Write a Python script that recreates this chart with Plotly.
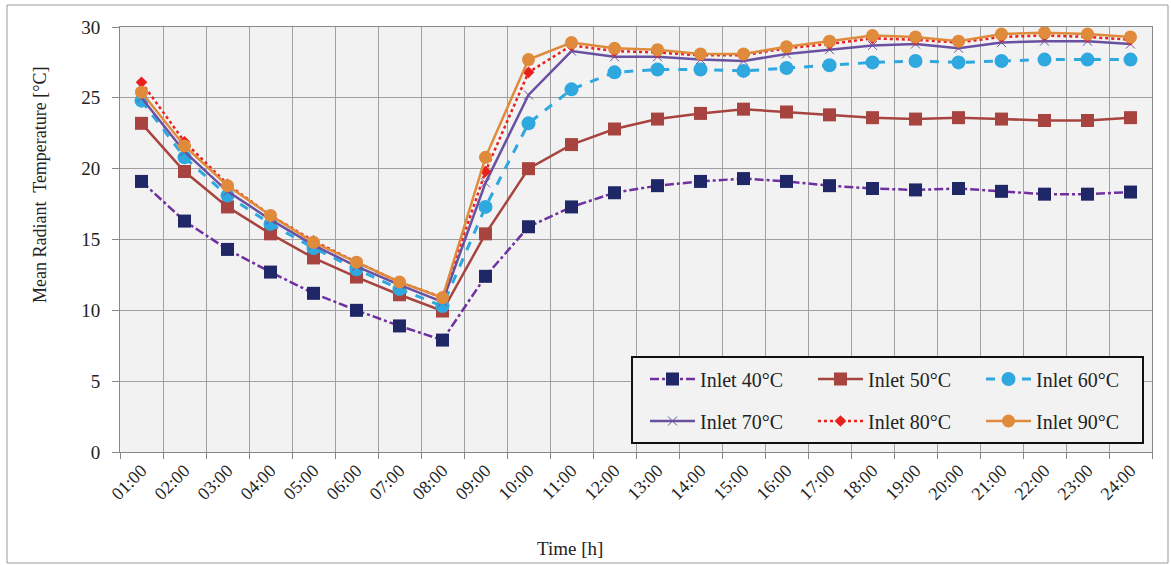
import plotly.graph_objects as go

hours = [f"{h:02d}:00" for h in range(1, 25)]

inlet_40 = [19.1, 16.3, 14.3, 12.7, 11.2, 10.0, 8.9, 7.9, 12.4, 15.9, 17.3, 18.3, 18.8, 19.1, 19.3, 19.1, 18.8, 18.6, 18.5, 18.6, 18.4, 18.2, 18.2, 18.35]
inlet_50 = [23.2, 19.8, 17.3, 15.4, 13.7, 12.35, 11.1, 9.95, 15.4, 20.0, 21.7, 22.8, 23.5, 23.9, 24.2, 24.0, 23.8, 23.6, 23.5, 23.6, 23.5, 23.4, 23.4, 23.6]
inlet_60 = [24.8, 20.8, 18.1, 16.1, 14.4, 12.9, 11.5, 10.3, 17.3, 23.2, 25.6, 26.8, 27.0, 27.0, 26.9, 27.1, 27.3, 27.5, 27.6, 27.5, 27.6, 27.7, 27.7, 27.7]
inlet_70 = [25.0, 21.2, 18.4, 16.4, 14.6, 13.1, 11.8, 10.6, 19.0, 25.2, 28.3, 27.9, 27.9, 27.7, 27.6, 28.1, 28.4, 28.7, 28.8, 28.5, 28.9, 29.0, 29.0, 28.8]
inlet_80 = [26.1, 21.9, 18.9, 16.7, 14.9, 13.4, 12.0, 10.9, 19.8, 26.8, 28.7, 28.3, 28.2, 28.0, 28.0, 28.5, 28.8, 29.2, 29.1, 28.9, 29.3, 29.4, 29.3, 29.1]
inlet_90 = [25.4, 21.6, 18.8, 16.7, 14.8, 13.4, 12.0, 10.9, 20.8, 27.7, 28.9, 28.5, 28.4, 28.1, 28.1, 28.6, 29.0, 29.4, 29.3, 29.0, 29.5, 29.6, 29.5, 29.3]

x_title = "Time [h]"
y_title = "Mean Radiant  Temperature [°C]"

series = [
    ("Inlet 40°C", inlet_40, dict(color="#7030A0", width=2.5, dash="dashdot"),
     dict(symbol="square", size=13, color="#1F2766"), "legend"),
    ("Inlet 50°C", inlet_50, dict(color="#A8443F", width=2.5, dash="solid"),
     dict(symbol="square", size=13, color="#A8443F"), "legend"),
    ("Inlet 60°C", inlet_60, dict(color="#2EA8DE", width=3, dash="dash"),
     dict(symbol="circle", size=14, color="#2EA8DE"), "legend"),
    ("Inlet 70°C", inlet_70, dict(color="#6A50A0", width=2.5, dash="solid"),
     dict(symbol="x-thin", size=9, color="#6A50A0", line=dict(color="#6A50A0", width=1)), "legend2"),
    ("Inlet 80°C", inlet_80, dict(color="#E8211F", width=2.5, dash="dot"),
     dict(symbol="diamond", size=9, color="#E8211F"), "legend2"),
    ("Inlet 90°C", inlet_90, dict(color="#E08A3C", width=2.5, dash="solid"),
     dict(symbol="circle", size=13, color="#E08A3C"), "legend2"),
]

fig = go.Figure()
for name, vals, line, marker, lg in series:
    fig.add_trace(go.Scatter(x=hours, y=vals, name=name, mode="lines+markers",
                             line=line, marker=marker, legend=lg))

serif = "Liberation Serif, Times New Roman, serif"
L, R, T, Bm = 120, 19, 27, 113
PW, PH = 1171 - L - R, 565 - T - Bm
B = T + PH


def px_x(p):
    return (p - L) / PW


def px_y(p):
    return (B - p) / PH


legend_common = dict(
    orientation="h", xanchor="left", yanchor="middle",
    bgcolor="rgba(0,0,0,0)", borderwidth=0,
    font=dict(family=serif, size=20, color="#222"),
    entrywidth=108, entrywidthmode="pixels", itemwidth=45,
    traceorder="normal",
)
fig.update_layout(
    width=1171, height=565,
    margin=dict(l=L, r=R, t=T, b=Bm),
    paper_bgcolor="white",
    plot_bgcolor="#F2F2F2",
    font=dict(family=serif, size=18, color="#222"),
    showlegend=True,
    legend=dict(x=px_x(645), y=px_y(379), **legend_common),
    legend2=dict(x=px_x(645), y=px_y(421), **legend_common),
    xaxis=dict(
        type="category", tickson="boundaries", range=[-0.5, 23.5],
        showgrid=True, gridcolor="#A0A0A0", gridwidth=1,
        ticks="outside", ticklen=6, tickcolor="#888",
        showline=True, linecolor="#888", linewidth=1, mirror=True,
        tickangle=-45, tickfont=dict(family=serif, size=18),
    ),
    yaxis=dict(
        range=[0, 30], tickvals=[0, 5, 10, 15, 20, 25, 30],
        showgrid=True, gridcolor="#A0A0A0", gridwidth=1,
        ticks="outside", ticklen=7, tickcolor="#888",
        showline=True, linecolor="#888", linewidth=1, mirror=True,
        zeroline=False, ticklabelstandoff=8,
        tickfont=dict(family=serif, size=19),
    ),
    annotations=[
        dict(text=x_title, xref="paper", yref="paper", x=px_x(570), y=px_y(548),
             xanchor="center", yanchor="middle", showarrow=False,
             font=dict(family=serif, size=19, color="#222")),
        dict(text=y_title, xref="paper", yref="paper", x=px_x(40), y=px_y(185),
             xanchor="center", yanchor="middle", showarrow=False, textangle=-90,
             font=dict(family=serif, size=18, color="#222")),
    ],
    shapes=[
        dict(type="rect", xref="paper", yref="paper",
             x0=px_x(7), x1=px_x(1168), y0=px_y(563), y1=px_y(5),
             line=dict(color="#999", width=1), layer="below"),
        dict(type="rect", xref="paper", yref="paper",
             x0=px_x(632), x1=px_x(1143), y0=px_y(443), y1=px_y(357),
             line=dict(color="#111", width=2), fillcolor="#F2F2F2", layer="above"),
    ],
)

fig.write_html("out.html")
